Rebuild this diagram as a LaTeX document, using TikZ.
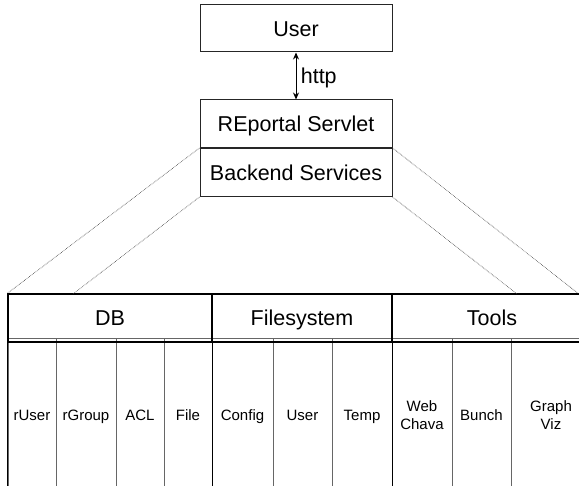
\documentclass[tikz,border=0pt]{standalone}
\usepackage{fontspec}
\setmainfont{Liberation Sans}
\usetikzlibrary{arrows.meta}
\begin{document}
\begin{tikzpicture}[x=1pt,y=-1pt,
  big/.style={font=\fontsize{21.5}{25}\selectfont,text height=18pt,text depth=2.6pt},
  box/.style={big,draw=black!85,line width=1pt,minimum width=192pt,minimum height=48pt,inner sep=0pt},
  head/.style={big,draw=black,line width=1.3pt,inner sep=0pt},
  sub/.style={draw=black!60,line width=1pt,inner sep=0pt,align=center,font=\fontsize{15}{17.5}\selectfont,minimum height=152pt},
  one/.style={text height=12.5pt,text depth=1.8pt},
  proj/.style={black!80,line width=0.6pt,densely dotted}]
\useasboundingbox (0,0) rectangle (579,486);
\clip (0,0) rectangle (579,486);
\node[box,minimum height=47pt] (user) at (296,28.5) {User};
\node[box] (servlet) at (296,124) {REportal Servlet};
\node[box] (backend) at (296,172.5) {Backend Services};
\draw[{Stealth[length=7pt,width=6pt]}-{Stealth[length=7pt,width=6pt]},line width=1pt] (user.south) -- node[right=1pt,big] (http) {http} (servlet.north);
% sub columns
\node[sub,one,minimum width=48pt] (ruser) at (32,415) {rUser};
\node[sub,one,minimum width=60pt] (rgroup) at (86,415) {rGroup};
\node[sub,one,minimum width=48pt] (acl) at (140,415) {ACL};
\node[sub,one,minimum width=48pt] (file) at (188,415) {File};
\node[sub,one,minimum width=61pt] (config) at (242.5,415) {Config};
\node[sub,one,minimum width=59pt] (fuser) at (302.5,415) {User};
\node[sub,one,minimum width=60pt] (temp) at (362,415) {Temp};
\node[sub,minimum width=60pt] (webchava) at (422,415) {Web\\Chava};
\node[sub,one,minimum width=59pt] (bunch) at (481.5,415) {Bunch};
\node[sub,minimum width=80pt] (graphviz) at (551,415) {Graph\\Viz};
% header row
\node[head,minimum width=204pt,minimum height=48pt] (db) at (110,318) {DB};
\node[head,minimum width=180pt,minimum height=48pt] (fs) at (302,318) {Filesystem};
\node[head,minimum width=200pt,minimum height=48pt] (tools) at (492,318) {Tools};
\draw[black,line width=1.3pt] (db.north west) -- (db.north west |- 0,500);
\draw[black,line width=1.3pt] (db.north east) -- (db.north east |- 0,500);
\draw[black,line width=1.3pt] (fs.north east) -- (fs.north east |- 0,500);
\coordinate (l2) at (73,294);
\coordinate (r2) at (517,294);
\coordinate (r1) at (579,294);
\draw[proj] (backend.north west) -- (db.north west);
\draw[proj] (backend.south west) -- (l2);
\draw[proj] (backend.north east) -- (r1);
\draw[proj] (backend.south east) -- (r2);
\end{tikzpicture}
\end{document}
